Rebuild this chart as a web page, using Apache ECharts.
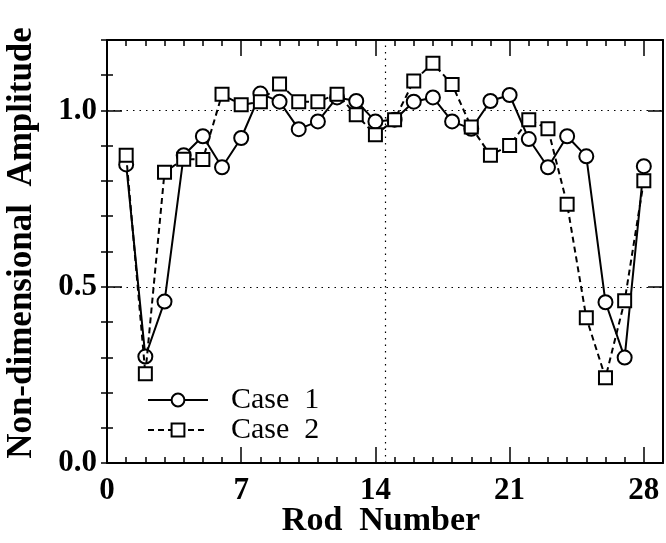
<!DOCTYPE html>
<html>
<head>
<meta charset="utf-8">
<script src="https://cdn.jsdelivr.net/npm/echarts@6/dist/echarts.min.js"></script>
<style>
  html, body { margin: 0; padding: 0; background: #fff; }
  #chart { width: 666px; height: 543px; }
</style>
</head>
<body>
<div id="chart"></div>
<script>
// rod numbers 1..28
const rods = [1, 2, 3, 4, 5, 6, 7, 8, 9, 10, 11, 12, 13, 14, 15, 16, 17, 18, 19, 20, 21, 22, 23, 24, 25, 26, 27, 28]
const case1 = [0.847, 0.302, 0.458, 0.873, 0.927, 0.839, 0.922, 1.048, 1.025, 0.947, 0.969, 1.037, 1.027, 0.969,
  0.974, 1.025, 1.037, 0.969, 0.948, 1.027, 1.044, 0.919, 0.839, 0.927, 0.870, 0.456, 0.299, 0.842]
const case2 = [0.873, 0.253, 0.825, 0.862, 0.861, 1.046, 1.016, 1.025, 1.075, 1.025, 1.025, 1.046, 0.988, 0.931,
  0.974, 1.084, 1.134, 1.074, 0.953, 0.873, 0.901, 0.974, 0.948, 0.734, 0.412, 0.242, 0.460, 0.801]
const seriesNames = ['Case  1', 'Case  2']
const xTicks = [0, 7, 14, 21, 28]
const yTicks = [0.0, 0.5, 1.0]

const serif = 'Liberation Serif'
const black = '#000'

function pairs(vals) {
  return rods.map((r, i) => [r, vals[i]])
}

// one axis draws the long ticks + labels, a second one the short ticks
function xAxisPair(pos) {
  const major = {
    type: 'value', position: pos, min: 0, max: 29, interval: 7,
    axisLine: { show: pos === 'bottom', onZero: false, lineStyle: { color: black, width: 2 } },
    axisTick: { show: true, inside: true, length: 16, lineStyle: { color: black, width: 1.5 } },
    axisLabel: {
      show: pos === 'bottom', margin: 12,
      color: black, fontFamily: serif, fontWeight: 'bold', fontSize: 31,
      formatter: v => (xTicks.indexOf(v) >= 0 ? String(v) : '')
    },
    splitLine: { show: false }
  }
  const minor = {
    type: 'value', position: pos, min: 0, max: 29, interval: 1,
    axisLine: { show: pos === 'top', onZero: false, lineStyle: { color: black, width: 2 } },
    axisTick: { show: true, inside: true, length: 6, lineStyle: { color: black, width: 1.5 } },
    axisLabel: { show: false },
    splitLine: { show: false }
  }
  return [major, minor]
}

function yAxisPair(pos) {
  const major = {
    type: 'value', position: pos, min: 0, max: 1.2, interval: 0.5,
    axisLine: { show: true, onZero: false, lineStyle: { color: black, width: 2 } },
    axisTick: { show: true, inside: true, length: 15, lineStyle: { color: black, width: 1.5 } },
    axisLabel: {
      show: pos === 'left', margin: 10,
      color: black, fontFamily: serif, fontWeight: 'bold', fontSize: 31,
      formatter: v => {
        const hit = yTicks.find(t => Math.abs(t - v) < 1e-6)
        return hit === undefined ? '' : hit.toFixed(1)
      }
    },
    splitLine: {
      show: pos === 'left',
      lineStyle: { color: black, width: 1.2, type: [1.5, 5] }
    }
  }
  const minor = {
    type: 'value', position: pos, min: 0, max: 1.2, interval: 0.1,
    axisLine: { show: false },
    axisTick: { show: true, inside: true, length: 6, lineStyle: { color: black, width: 1.5 } },
    axisLabel: { show: false },
    splitLine: { show: false }
  }
  return [major, minor]
}

const chart = echarts.init(document.getElementById('chart'), null, { renderer: 'canvas' })

const option = {
  backgroundColor: '#fff',
  animation: false,
  grid: { left: 107, right: -2, top: 40, bottom: 80 },
  xAxis: [...xAxisPair('bottom'), ...xAxisPair('top')],
  yAxis: [...yAxisPair('left'), ...yAxisPair('right')],
  graphic: [
    {
      type: 'text', x: 381, y: 504,
      style: { text: 'Rod  Number', fill: black, font: 'bold 34px "Liberation Serif"', textAlign: 'center' }
    },
    {
      type: 'text', x: 4, y: 243, rotation: Math.PI / 2,
      style: {
        text: 'Non-dimensional  Amplitude', fill: black,
        font: 'bold 35px "Liberation Serif"', textAlign: 'center', textVerticalAlign: 'top'
      }
    }
  ],
  legend: {
    left: 142, top: 380, orient: 'vertical',
    itemWidth: 60, itemHeight: 16, itemGap: 0,
    data: seriesNames,
    textStyle: { color: black, fontFamily: serif, fontSize: 30, padding: [0, 0, 0, 18] }
  },
  series: [
    {
      name: seriesNames[0], type: 'line', data: pairs(case1),
      symbol: 'emptyCircle', symbolSize: 14,
      lineStyle: { color: black, width: 2 },
      itemStyle: { color: black, borderWidth: 1.8 },
      markLine: {
        silent: true, symbol: 'none', label: { show: false },
        lineStyle: { color: black, width: 1.2, type: [1.5, 5] },
        data: [{ xAxis: 14.5 }]
      },
      z: 3
    },
    {
      name: seriesNames[1], type: 'line', data: pairs(case2),
      symbol: 'emptyRect', symbolSize: 13,
      lineStyle: { color: black, width: 2, type: [6, 4] },
      itemStyle: { color: black, borderWidth: 1.8 },
      z: 4
    }
  ]
}

chart.setOption(option)
</script>
</body>
</html>
